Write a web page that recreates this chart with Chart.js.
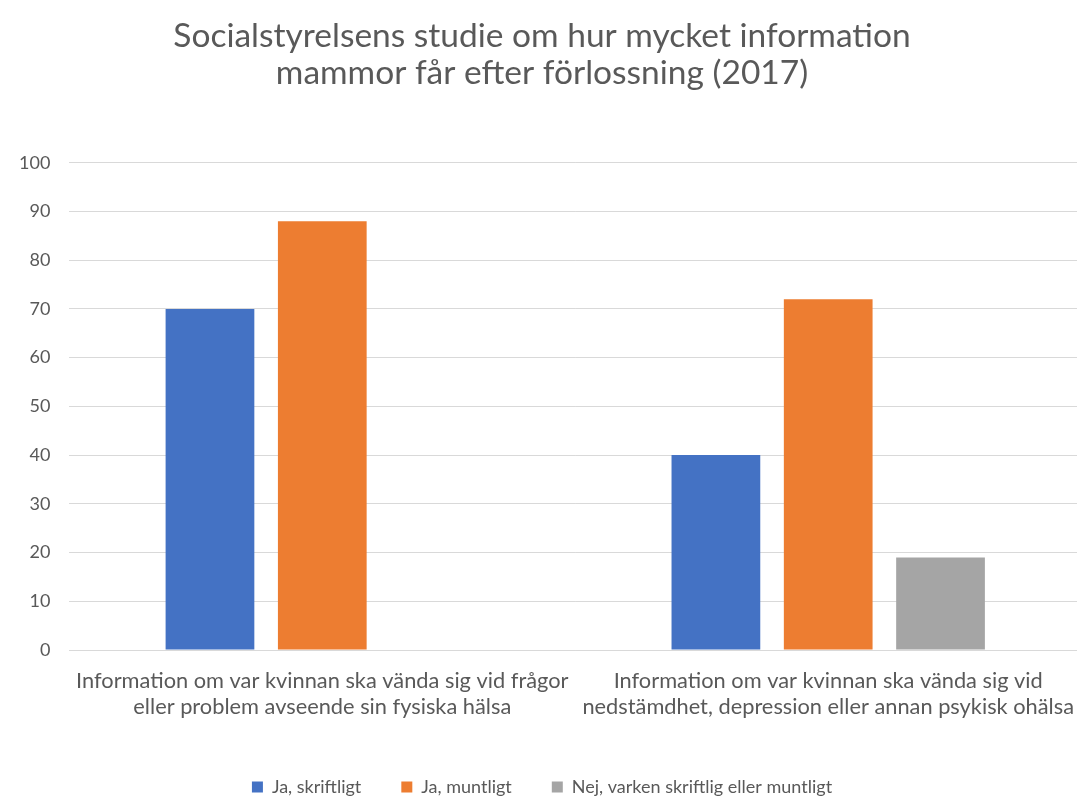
<!DOCTYPE html>
<html>
<head>
<meta charset="utf-8">
<script src="https://cdn.jsdelivr.net/npm/chart.js@4/dist/chart.umd.min.js"></script>
<style>
  html, body { margin: 0; padding: 0; background: #fff; overflow: hidden; }
  #wrap { width: 1077px; height: 807px; overflow: hidden; }
  /* the original is cropped: its plot area runs slightly past the right edge */
  #inner { width: 1084px; height: 807px; }
</style>
</head>
<body>
<div id="wrap"><div id="inner"><canvas id="chart"></canvas></div></div>
<script>
const categories = [
  ['Information om var kvinnan ska vända sig vid frågor', 'eller problem avseende sin fysiska hälsa'],
  ['Information om var kvinnan ska vända sig vid', 'nedstämdhet, depression eller annan psykisk ohälsa']
];
const seriesNames = ['Ja, skriftligt', 'Ja, muntligt', 'Nej, varken skriftlig eller muntligt'];
const skriftligt = [70, 40];
const muntligt = [88, 72];
const nej = [null, 19];
const colors = ['#4472C4', '#ED7D31', '#A5A5A5'];
const yTicks = [0, 10, 20, 30, 40, 50, 60, 70, 80, 90, 100];

const font = "Lato, 'Open Sans', sans-serif";
const textColor = '#595959';

const ctx = document.getElementById('chart').getContext('2d');
new Chart(ctx, {
  type: 'bar',
  data: {
    labels: categories,
    datasets: [skriftligt, muntligt, nej].map((d, i) => ({
      label: seriesNames[i],
      data: d,
      backgroundColor: colors[i],
      categoryPercentage: 0.666,
      barPercentage: 0.79
    }))
  },
  options: {
    responsive: true,
    maintainAspectRatio: false,
    animation: false,
    layout: { padding: { left: 0, right: 0, bottom: 1 } },
    plugins: {
      title: {
        display: true,
        text: ['Socialstyrelsens studie om hur mycket information', 'mammor får efter förlossning (2017)'],
        color: textColor,
        font: { family: font, size: 33.5, weight: 'normal', lineHeight: 1.1 },
        padding: { top: 18, bottom: 71 }
      },
      legend: {
        position: 'bottom',
        labels: {
          color: textColor,
          font: { family: font, size: 18 },
          boxWidth: 11,
          boxHeight: 11,
          padding: 40
        }
      },
      tooltip: { enabled: false }
    },
    scales: {
      x: {
        grid: { display: false },
        border: { color: '#d9d9d9' },
        ticks: {
          color: textColor,
          font: { family: font, size: 21.8, lineHeight: 1.2 },
          maxRotation: 0,
          padding: 10
        },
        afterFit: s => { s.height = 88; }
      },
      y: {
        min: 0,
        max: 100,
        afterBuildTicks: s => { s.ticks = yTicks.map(v => ({ value: v })); },
        grid: { color: '#d9d9d9', drawTicks: false },
        border: { display: false },
        ticks: {
          color: textColor,
          font: { family: font, size: 18 },
          padding: 19
        }
      }
    }
  }
});
</script>
</body>
</html>
